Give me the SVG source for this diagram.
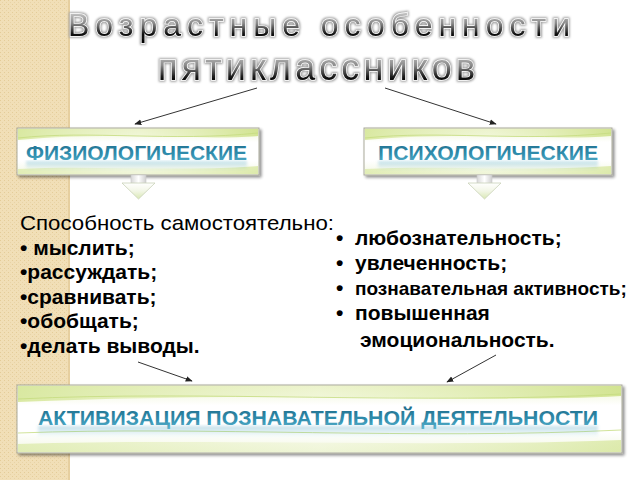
<svg xmlns="http://www.w3.org/2000/svg" width="640" height="480" viewBox="0 0 640 480">
<defs>
  <pattern id="dots" width="4" height="4" patternUnits="userSpaceOnUse">
    <rect width="4" height="4" fill="#f1dfb7"/>
    <rect x="0" y="0" width="1" height="1" fill="#e4cc98"/>
    <rect x="2" y="2" width="1" height="1" fill="#e8d3a6"/>
  </pattern>
  <linearGradient id="titleFill" x1="0" y1="0" x2="0" y2="1">
    <stop offset="0" stop-color="#e6e6e6"/>
    <stop offset="0.45" stop-color="#8a8a8a"/>
    <stop offset="0.75" stop-color="#111"/>
    <stop offset="1" stop-color="#000"/>
  </linearGradient>
  <linearGradient id="boxBg" x1="0" y1="0" x2="0" y2="1">
    <stop offset="0" stop-color="#eef4d2"/>
    <stop offset="0.3" stop-color="#ffffff"/>
    <stop offset="0.7" stop-color="#ffffff"/>
    <stop offset="1" stop-color="#f1f6e0"/>
  </linearGradient>
  <linearGradient id="swoosh" x1="0" y1="0" x2="1" y2="0">
    <stop offset="0" stop-color="#d6e79a" stop-opacity="0.9"/>
    <stop offset="0.5" stop-color="#e9f2c4" stop-opacity="0.5"/>
    <stop offset="1" stop-color="#cfe28a" stop-opacity="0.9"/>
  </linearGradient>
  <linearGradient id="teal" x1="0" y1="0" x2="0" y2="1">
    <stop offset="0" stop-color="#1e6a88"/>
    <stop offset="0.6" stop-color="#3290b0"/>
    <stop offset="1" stop-color="#5db3cc"/>
  </linearGradient>
  <linearGradient id="refl" x1="0" y1="0" x2="0" y2="1">
    <stop offset="0" stop-color="#4aa3bf" stop-opacity="0.35"/>
    <stop offset="1" stop-color="#4aa3bf" stop-opacity="0"/>
  </linearGradient>
  <linearGradient id="arrowFill" x1="0" y1="0" x2="0" y2="1">
    <stop offset="0" stop-color="#ffffff"/>
    <stop offset="0.5" stop-color="#f2f6e6"/>
    <stop offset="1" stop-color="#d9e8b4"/>
  </linearGradient>
  <linearGradient id="stemFill" x1="0" y1="0" x2="1" y2="0">
    <stop offset="0" stop-color="#d8d8d8"/>
    <stop offset="0.5" stop-color="#ffffff"/>
    <stop offset="1" stop-color="#d0d0d0"/>
  </linearGradient>
  <filter id="shadow" x="-5%" y="-20%" width="110%" height="150%">
    <feGaussianBlur in="SourceAlpha" stdDeviation="1.5"/>
    <feOffset dx="2" dy="2" result="b"/>
    <feComponentTransfer><feFuncA type="linear" slope="0.45"/></feComponentTransfer>
    <feMerge><feMergeNode/><feMergeNode in="SourceGraphic"/></feMerge>
  </filter>
  <filter id="halo" x="-5%" y="-30%" width="110%" height="160%">
    <feMorphology in="SourceAlpha" operator="dilate" radius="1.4" result="d"/>
    <feGaussianBlur in="d" stdDeviation="0.9" result="g"/>
    <feFlood flood-color="#a0a0a0"/>
    <feComposite in2="g" operator="in" result="h"/>
    <feMerge><feMergeNode in="h"/><feMergeNode in="SourceGraphic"/></feMerge>
  </filter>
  <filter id="blur2"><feGaussianBlur stdDeviation="1.5"/></filter>
  <marker id="arr" viewBox="0 0 10 10" refX="9" refY="5" markerWidth="7" markerHeight="7" orient="auto-start-reverse" markerUnits="userSpaceOnUse">
    <path d="M0,1 L10,5 L0,9 Z" fill="#222"/>
  </marker>
  <style>
    .title{font-family:"Liberation Sans",Arial,sans-serif;fill:url(#titleFill);stroke:#ffffff;stroke-width:1.4;paint-order:stroke;filter:url(#halo)}
    .lbl{font-family:"Liberation Sans",Arial,sans-serif;font-weight:bold;fill:url(#teal);font-size:21px}
    .txt{font-family:"Liberation Sans",Arial,sans-serif;font-size:21px;fill:#000}
    .b{font-weight:bold}
    .box{fill:url(#boxBg);stroke:#a9a99a;stroke-width:1}
    .sw{fill:url(#swoosh)}
    .ln{fill:none;stroke:#c6dc80;stroke-width:1;opacity:0.8}
    .conn{stroke:#333;stroke-width:1;fill:none;marker-end:url(#arr)}
    .head{fill:url(#arrowFill);stroke:#c9d2b8;stroke-width:0.8}
    .stem{fill:url(#stemFill);stroke:#c8c8c8;stroke-width:0.6}
  </style>
</defs>

<rect width="640" height="480" fill="#ffffff"/>
<rect x="0" y="0" width="70" height="480" fill="url(#dots)"/>
<rect x="68" y="0" width="2" height="480" fill="#e6cf9f"/>

<g id="title">
  <text class="title" x="68" y="36" font-size="32" textLength="502" lengthAdjust="spacing">Возрастные особенности</text>
  <text class="title" x="158" y="80" font-size="36" textLength="317" lengthAdjust="spacing">пятиклассников</text>
</g>

<g id="connectors">
  <line class="conn" x1="257" y1="88" x2="135" y2="124"/>
  <line class="conn" x1="385" y1="88" x2="496" y2="124"/>
  <line class="conn" x1="138" y1="362" x2="192" y2="381"/>
  <line class="conn" x1="496" y1="355" x2="447" y2="382"/>
</g>

<g id="physio">
  <g filter="url(#shadow)">
    <rect class="box" x="17" y="128" width="242" height="47"/>
  </g>
  <path class="sw" d="M18,129 H258 V136 C200,141 120,131 18,140 Z"/>
  <path class="ln" d="M18,138 C90,130 170,142 258,133"/>
  <path class="sw" d="M18,174 V169 C90,165 170,172 258,166 V174 Z" opacity="0.7"/>
  <rect x="26" y="161" width="221" height="9" fill="url(#refl)" filter="url(#blur2)"/>
  <text class="lbl" x="26" y="160" textLength="221" lengthAdjust="spacingAndGlyphs">ФИЗИОЛОГИЧЕСКИЕ</text>
  <rect class="stem" x="131" y="175" width="15" height="9"/>
  <path class="head" d="M122,183 H155 L138.5,199 Z"/>
</g>

<g id="psycho">
  <g filter="url(#shadow)">
    <rect class="box" x="364" y="128" width="248" height="47"/>
  </g>
  <path class="sw" d="M365,129 H611 V136 C550,141 470,131 365,140 Z"/>
  <path class="ln" d="M365,138 C440,130 520,142 611,133"/>
  <path class="sw" d="M365,174 V169 C440,165 520,172 611,166 V174 Z" opacity="0.7"/>
  <rect x="378" y="161" width="220" height="9" fill="url(#refl)" filter="url(#blur2)"/>
  <text class="lbl" x="378" y="160" textLength="220" lengthAdjust="spacingAndGlyphs">ПСИХОЛОГИЧЕСКИЕ</text>
  <rect class="stem" x="477" y="175" width="15" height="9"/>
  <path class="head" d="M468,183 H501 L484.5,199 Z"/>
</g>

<g id="left-list" class="txt">
  <text x="20" y="230" textLength="314" lengthAdjust="spacingAndGlyphs">Способность самостоятельно:</text>
  <text class="b" x="20" y="255">• мыслить;</text>
  <text class="b" x="20" y="279">•рассуждать;</text>
  <text class="b" x="20" y="304">•сравнивать;</text>
  <text class="b" x="20" y="328">•обобщать;</text>
  <text class="b" x="20" y="353">•делать выводы.</text>
</g>

<g id="right-list" class="txt b">
  <text x="336" y="245">•</text><text x="355" y="245">любознательность;</text>
  <text x="336" y="270">•</text><text x="355" y="270">увлеченность;</text>
  <text x="336" y="295">•</text><text x="355" y="295" font-size="19">познавательная активность;</text>
  <text x="336" y="320">•</text><text x="355" y="320">повышенная</text>
  <text x="360" y="347">эмоциональность.</text>
</g>

<g id="activation">
  <g filter="url(#shadow)">
    <rect class="box" x="17" y="385" width="605" height="68"/>
  </g>
  <path class="sw" d="M18,386 H621 V396 C480,404 300,390 18,402 Z"/>
  <path class="ln" d="M18,399 C200,390 420,405 621,394"/>
  <path class="ln" d="M18,433 C200,426 420,440 621,430"/>
  <path class="sw" d="M18,452 V444 C200,438 420,448 621,440 V452 Z" opacity="0.7"/>
  <rect x="38" y="426" width="560" height="11" fill="url(#refl)" filter="url(#blur2)"/>
  <text class="lbl" x="38" y="425" textLength="560" lengthAdjust="spacingAndGlyphs">АКТИВИЗАЦИЯ ПОЗНАВАТЕЛЬНОЙ ДЕЯТЕЛЬНОСТИ</text>
</g>
</svg>
